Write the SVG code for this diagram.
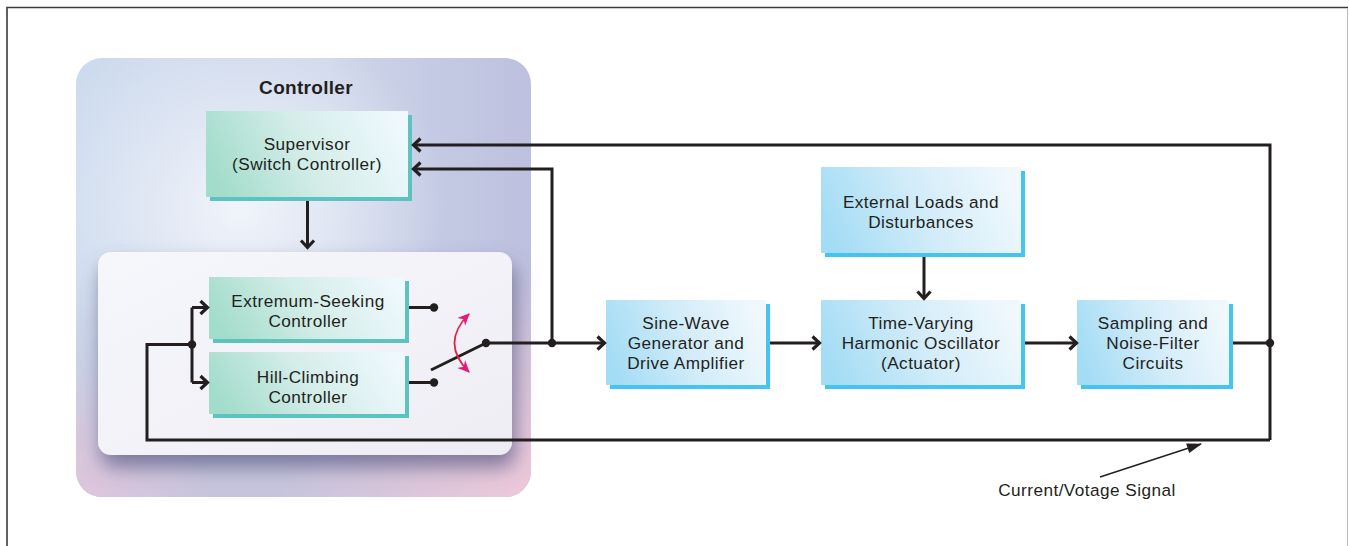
<svg xmlns="http://www.w3.org/2000/svg" width="1349" height="546" viewBox="0 0 1349 546">
<defs>
<style>
.ln{fill:none;stroke:#231f20;stroke-width:3}
.dot{fill:#231f20}
.t{font-family:"Liberation Sans",Arial,sans-serif;font-size:17.2px;letter-spacing:0.45px;fill:#231f20;text-anchor:middle}
.title{font-family:"Liberation Sans",Arial,sans-serif;font-size:19px;letter-spacing:0.3px;font-weight:bold;fill:#231f20;text-anchor:middle}
</style>
<marker id="ah" markerUnits="userSpaceOnUse" markerWidth="14" markerHeight="16" refX="11" refY="7" orient="auto" overflow="visible">
<path d="M3.5,0.5 L10.5,7 L3.5,13.5" fill="none" stroke="#231f20" stroke-width="3.2"/>
</marker>
<marker id="mh" markerUnits="userSpaceOnUse" markerWidth="14" markerHeight="14" refX="11" refY="5.5" orient="auto-start-reverse" overflow="visible">
<path d="M0,0 L12,5.5 L0,11 L3.5,5.5 Z" fill="#e6197a"/>
</marker>
<marker id="lh" markerUnits="userSpaceOnUse" markerWidth="16" markerHeight="12" refX="14" refY="5" orient="auto" overflow="visible">
<path d="M0,0 L15,5 L0,10 Z" fill="#231f20"/>
</marker>
<linearGradient id="gOuter" x1="0" y1="0" x2="1" y2="0">
<stop offset="0" stop-color="#cddbee"/>
<stop offset="0.55" stop-color="#cdd6ea"/>
<stop offset="1" stop-color="#bdc0de"/>
</linearGradient>
<radialGradient id="gGlow" cx="0.36" cy="0.34" r="0.45">
<stop offset="0" stop-color="#f2f5fb" stop-opacity="0.95"/>
<stop offset="1" stop-color="#f2f5fb" stop-opacity="0"/>
</radialGradient>
<linearGradient id="gLav" x1="0" y1="0" x2="0" y2="1">
<stop offset="0.5" stop-color="#c6c4dc" stop-opacity="0"/>
<stop offset="1" stop-color="#c6c4dc" stop-opacity="1"/>
</linearGradient>
<radialGradient id="gPinkR" cx="1" cy="1" r="0.55">
<stop offset="0" stop-color="#eec8da" stop-opacity="1"/>
<stop offset="1" stop-color="#eec8da" stop-opacity="0"/>
</radialGradient>
<radialGradient id="gPinkL" cx="0" cy="1" r="0.3">
<stop offset="0" stop-color="#e2c6dc" stop-opacity="0.9"/>
<stop offset="1" stop-color="#e2c6dc" stop-opacity="0"/>
</radialGradient>
<linearGradient id="gInner" x1="0" y1="0" x2="1" y2="1">
<stop offset="0" stop-color="#f5f7fb"/>
<stop offset="1" stop-color="#efedf4"/>
</linearGradient>
<linearGradient id="gTeal" x1="0" y1="0.6" x2="1" y2="0.4">
<stop offset="0" stop-color="#a2dccb"/>
<stop offset="0.5" stop-color="#d4ede8"/>
<stop offset="1" stop-color="#eef8fd"/>
</linearGradient>
<linearGradient id="gBlue" x1="0" y1="0.6" x2="1" y2="0.4">
<stop offset="0" stop-color="#a3dcf5"/>
<stop offset="0.5" stop-color="#d2ecf9"/>
<stop offset="1" stop-color="#f0f8fd"/>
</linearGradient>
<filter id="sh" x="-20%" y="-20%" width="140%" height="150%">
<feGaussianBlur in="SourceAlpha" stdDeviation="10"/>
<feOffset dx="3" dy="12" result="b"/>
<feFlood flood-color="#55557f" flood-opacity="0.7"/>
<feComposite in2="b" operator="in"/>
<feMerge><feMergeNode/><feMergeNode in="SourceGraphic"/></feMerge>
</filter>
</defs>
<rect x="0" y="0" width="1349" height="546" fill="#ffffff"/>
<path d="M7,546 V7.5 H1348" fill="none" stroke="#3a3a3a" stroke-width="1.6"/>
<line x1="1347.5" y1="8" x2="1347.5" y2="546" stroke="#bdbdbd" stroke-width="1"/>

<g id="controller">
<rect x="76" y="58" width="455" height="439" rx="26" fill="url(#gOuter)"/>
<rect x="76" y="58" width="455" height="439" rx="26" fill="url(#gGlow)"/>
<rect x="76" y="58" width="455" height="439" rx="26" fill="url(#gLav)"/>
<rect x="76" y="58" width="455" height="439" rx="26" fill="url(#gPinkR)"/>
<rect x="76" y="58" width="455" height="439" rx="26" fill="url(#gPinkL)"/>
<text class="title" x="306" y="94">Controller</text>
</g>
<g id="inner-panel">
<rect x="98" y="252" width="414" height="203" rx="13" fill="url(#gInner)" filter="url(#sh)"/>
</g>

<g id="supervisor">
<rect x="210" y="115" width="202" height="86" fill="#5cc3bf"/>
<rect x="206" y="111" width="202" height="86" fill="url(#gTeal)"/>
<text class="t" x="307" y="150">Supervisor</text>
<text class="t" x="307" y="170">(Switch Controller)</text>
</g>
<g id="extremum">
<rect x="213" y="281" width="196" height="62" fill="#5cc3bf"/>
<rect x="209" y="277" width="196" height="62" fill="url(#gTeal)"/>
<text class="t" x="308" y="307">Extremum-Seeking</text>
<text class="t" x="308" y="327">Controller</text>
</g>
<g id="hillclimbing">
<rect x="213" y="356" width="196" height="62" fill="#5cc3bf"/>
<rect x="209" y="352" width="196" height="62" fill="url(#gTeal)"/>
<text class="t" x="308" y="383">Hill-Climbing</text>
<text class="t" x="308" y="403">Controller</text>
</g>
<g id="sinewave">
<rect x="610" y="304" width="160" height="85" fill="#45c3f1"/>
<rect x="606" y="300" width="160" height="85" fill="url(#gBlue)"/>
<text class="t" x="686" y="329">Sine-Wave</text>
<text class="t" x="686" y="349">Generator and</text>
<text class="t" x="686" y="369">Drive Amplifier</text>
</g>
<g id="external">
<rect x="825" y="171" width="200" height="86" fill="#45c3f1"/>
<rect x="821" y="167" width="200" height="86" fill="url(#gBlue)"/>
<text class="t" x="921" y="208">External Loads and</text>
<text class="t" x="921" y="228">Disturbances</text>
</g>
<g id="oscillator">
<rect x="825" y="304" width="200" height="85" fill="#45c3f1"/>
<rect x="821" y="300" width="200" height="85" fill="url(#gBlue)"/>
<text class="t" x="921" y="329">Time-Varying</text>
<text class="t" x="921" y="349">Harmonic Oscillator</text>
<text class="t" x="921" y="369">(Actuator)</text>
</g>
<g id="sampling">
<rect x="1081" y="304" width="152" height="85" fill="#45c3f1"/>
<rect x="1077" y="300" width="152" height="85" fill="url(#gBlue)"/>
<text class="t" x="1153" y="329">Sampling and</text>
<text class="t" x="1153" y="349">Noise-Filter</text>
<text class="t" x="1153" y="369">Circuits</text>
</g>

<g id="connectors">
<path class="ln" d="M1270,440 V145 H413" marker-end="url(#ah)"/>
<path class="ln" d="M1270,440 H147 V344.5 H192"/>
<path class="ln" d="M192,307.5 V382.5"/>
<path class="ln" d="M192,307.5 H208" marker-end="url(#ah)"/>
<path class="ln" d="M192,382.5 H208" marker-end="url(#ah)"/>
<path class="ln" d="M307.5,201 V248" marker-end="url(#ah)"/>
<path class="ln" d="M409,307.5 H434"/>
<path class="ln" d="M409,382.5 H434"/>
<path class="ln" d="M431,370 L486,343" stroke-width="2.6"/>
<path class="ln" d="M486,343 H605" marker-end="url(#ah)"/>
<path class="ln" d="M552,343 V169 H413" marker-end="url(#ah)"/>
<path class="ln" d="M770,343 H820" marker-end="url(#ah)"/>
<path class="ln" d="M924,257 V299" marker-end="url(#ah)"/>
<path class="ln" d="M1025,343 H1077" marker-end="url(#ah)"/>
<path class="ln" d="M1233,343 H1270"/>
<circle class="dot" cx="434" cy="307.5" r="4.2"/>
<circle class="dot" cx="434" cy="382.5" r="4.2"/>
<circle class="dot" cx="486" cy="343" r="4.2"/>
<circle class="dot" cx="552" cy="343" r="4.2"/>
<circle class="dot" cx="192" cy="344.5" r="4.2"/>
<circle class="dot" cx="1270" cy="343" r="4.2"/>
<path d="M469,314 Q440,343 469,372" fill="none" stroke="#e8203f" stroke-width="1.7" marker-start="url(#mh)" marker-end="url(#mh)"/>
<path d="M1100,477 L1201,444" fill="none" stroke="#231f20" stroke-width="1.5" marker-end="url(#lh)"/>
</g>
<text class="t" x="1087" y="496">Current/Votage Signal</text>
</svg>
